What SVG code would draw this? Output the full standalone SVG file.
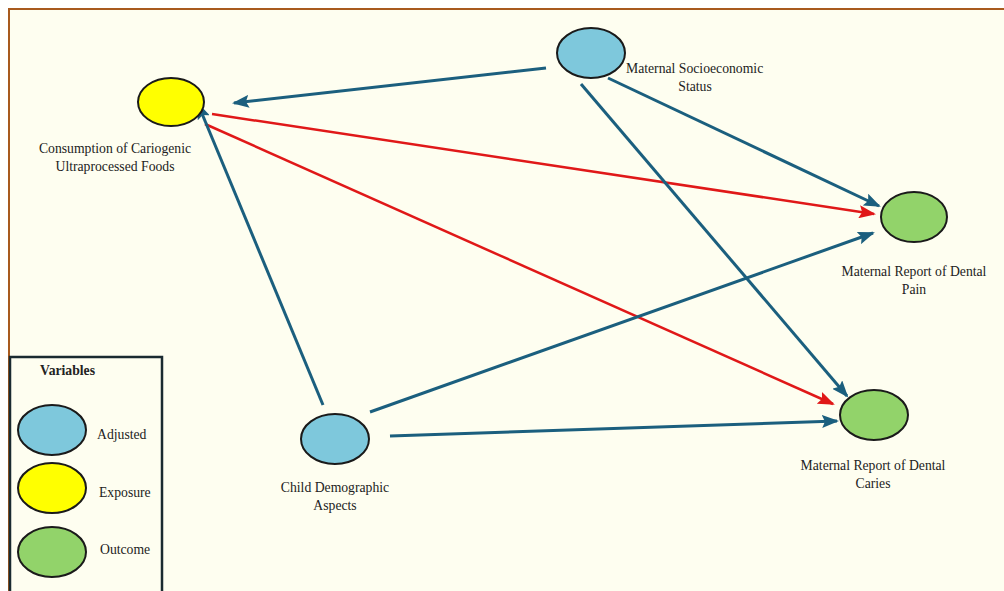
<svg xmlns="http://www.w3.org/2000/svg" width="1004" height="591" viewBox="0 0 1004 591">
<style>
.t{font-family:"Liberation Serif","Times New Roman",serif;font-size:13.7px;fill:#222;}
.b{stroke:#1B5F7E;stroke-width:3;fill:none;}
.r{stroke:#E01818;stroke-width:2.5;fill:none;}
.n{stroke:#1a1a1a;stroke-width:2;}
.adj{fill:#7EC8DC;}
.exp{fill:#FFFF00;}
.out{fill:#92D36A;}
</style>
<defs>
<marker id="ab" markerUnits="userSpaceOnUse" markerWidth="17" markerHeight="13" refX="15" refY="6.5" orient="auto"><path d="M0,0 L17,6.5 L0,13 L3,6.5 Z" fill="#1B5F7E"/></marker>
<marker id="ar" markerUnits="userSpaceOnUse" markerWidth="17" markerHeight="13" refX="15" refY="6.5" orient="auto"><path d="M0,0 L17,6.5 L0,13 L3,6.5 Z" fill="#E01818"/></marker>
</defs>
<rect width="1004" height="591" fill="#FFFFFF"/>
<rect x="9" y="9" width="1000" height="590" fill="#FEFEF0" stroke="#A85A1E" stroke-width="2"/>
<g id="connectors">
<line class="b" x1="546" y1="68" x2="234" y2="103" marker-end="url(#ab)"/>
<line class="r" x1="212" y1="114" x2="874" y2="214" marker-end="url(#ar)"/>
<line class="r" x1="205" y1="124" x2="833" y2="404" marker-end="url(#ar)"/>
<line class="b" x1="323" y1="405" x2="198" y2="104" marker-end="url(#ab)"/>
<line class="b" x1="370" y1="412" x2="873" y2="233" marker-end="url(#ab)"/>
<line class="b" x1="390" y1="436" x2="837" y2="421" marker-end="url(#ab)"/>
<line class="b" x1="581" y1="84" x2="847" y2="396" marker-end="url(#ab)"/>
<line class="b" x1="608" y1="78" x2="879" y2="206" marker-end="url(#ab)"/>
</g>
<g id="consumption">
<ellipse class="n exp" cx="171" cy="102" rx="33" ry="24"/>
<text class="t" x="115" y="153" text-anchor="middle">Consumption  of Cariogenic</text>
<text class="t" x="115" y="171" text-anchor="middle">Ultraprocessed  Foods</text>
</g>
<g id="ses">
<ellipse class="n adj" cx="591" cy="53" rx="34" ry="25"/>
<text class="t" x="626" y="73">Maternal  Socioeconomic</text>
<text class="t" x="695" y="91" text-anchor="middle">Status</text>
</g>
<g id="pain">
<ellipse class="n out" cx="914" cy="217" rx="33" ry="25"/>
<text class="t" x="914" y="276" text-anchor="middle">Maternal  Report  of Dental</text>
<text class="t" x="914" y="294" text-anchor="middle">Pain</text>
</g>
<g id="caries">
<ellipse class="n out" cx="874" cy="415" rx="34" ry="25"/>
<text class="t" x="873" y="470" text-anchor="middle">Maternal  Report  of Dental</text>
<text class="t" x="873" y="488" text-anchor="middle">Caries</text>
</g>
<g id="child">
<ellipse class="n adj" cx="335" cy="439" rx="34" ry="25"/>
<text class="t" x="335" y="492" text-anchor="middle">Child  Demographic</text>
<text class="t" x="335" y="510" text-anchor="middle">Aspects</text>
</g>
<g id="legend">
<rect x="10" y="357" width="152" height="240" fill="#FEFEF0" stroke="#1a2a30" stroke-width="2.5"/>
<text class="t" x="40" y="375" font-weight="bold">Variables</text>
<ellipse class="n adj" cx="52" cy="430" rx="34" ry="25"/>
<text class="t" x="97" y="439">Adjusted</text>
<ellipse class="n exp" cx="52" cy="488" rx="34" ry="25"/>
<text class="t" x="99" y="497">Exposure</text>
<ellipse class="n out" cx="52" cy="552" rx="34" ry="25"/>
<text class="t" x="100" y="554">Outcome</text>
</g>
</svg>
